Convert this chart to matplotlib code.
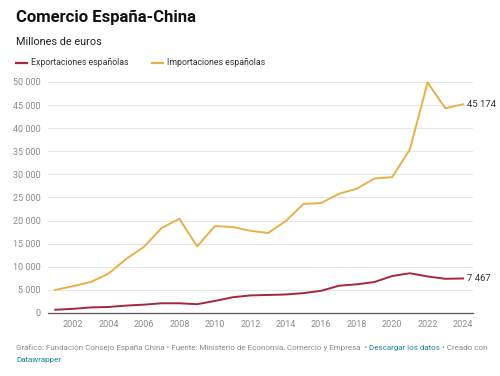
import matplotlib
matplotlib.use('Agg')
import matplotlib.pyplot as plt
import numpy as np

# values (millions of euros)
years = list(range(2001, 2025))
exports = [700, 900, 1200, 1300, 1600, 1800, 2100, 2100, 1900, 2600, 3400, 3800,
           3900, 4000, 4300, 4800, 5900, 6200, 6700, 8000, 8600, 7900, 7400, 7467]
imports = [5000, 5800, 6700, 8500, 11700, 14300, 18400, 20400, 14400, 18800, 18600, 17800,
           17300, 19900, 23600, 23800, 25800, 26900, 29100, 29400, 35400, 49900, 44300, 45174]
yticks = list(range(0, 50001, 5000))
xticks = list(range(2002, 2025, 2))

red = '#a3283c'
gold = '#e8b04a'
grey = '#8a8a8a'
link = '#1d81a2'

plt.rcParams['font.family'] = ['Roboto', 'DejaVu Sans']

def fmt(v):
    return f'{v:,}'.replace(',', ' ')

fig = plt.figure(figsize=(5, 3.76), dpi=100)
ax = fig.add_axes([0.096, 0.1676, 0.85, 0.6144])

ax.plot(years, imports, color=gold, lw=1.4, clip_on=False, zorder=3)
ax.plot(years, exports, color=red, lw=1.4, clip_on=False, zorder=3)

ax.set_xlim(2000.59, 2024.56)
ax.set_ylim(0, 50000)
ax.set_yticks(yticks)
ax.set_yticklabels([fmt(v) for v in yticks])
ax.set_xticks(xticks)
ax.set_xticklabels([str(y) for y in xticks])
ax.tick_params(axis='both', length=0, labelsize=6.5, labelcolor=grey)
ax.tick_params(axis='y', pad=5)
ax.tick_params(axis='x', pad=5)
ax.grid(axis='y', color='#e6e6e6', lw=0.8)
ax.set_axisbelow(True)
for s in ['top', 'right', 'left']:
    ax.spines[s].set_visible(False)
ax.spines['bottom'].set_color('#555555')
ax.spines['bottom'].set_linewidth(0.9)

# end labels
ax.text(years[-1] + 0.22, imports[-1], fmt(imports[-1]), fontsize=6.8, color='#333333',
        va='center', ha='left')
ax.text(years[-1] + 0.22, exports[-1], fmt(exports[-1]), fontsize=6.8, color='#333333',
        va='center', ha='left')

# title, subtitle, legend
fig.text(0.032, 0.953, 'Comercio España-China', fontsize=12, fontweight='bold',
         color='#111111', va='center')
fig.text(0.032, 0.888, 'Millones de euros', fontsize=7.8, color='#222222', va='center')
fig.add_artist(plt.Line2D([0.032, 0.054], [0.833, 0.833], color=red, lw=1.6))
fig.text(0.062, 0.833, 'Exportaciones españolas', fontsize=6.3, color='#333333', va='center')
fig.add_artist(plt.Line2D([0.304, 0.326], [0.833, 0.833], color=gold, lw=1.6))
fig.text(0.334, 0.833, 'Importaciones españolas', fontsize=6.3, color='#333333', va='center')

# footer with coloured link pieces
fig.canvas.draw()
renderer = fig.canvas.get_renderer()
pieces = [('Gráfico: Fundación Consejo España China • Fuente: Ministerio de Economía, Comercio y Empresa  • ', grey),
          ('Descargar los datos', link),
          (' • Creado con', grey)]
x = 0.032
for txt, col in pieces:
    t = fig.text(x, 0.075, txt, fontsize=5.8, color=col, va='center')
    bb = t.get_window_extent(renderer)
    x += bb.width / fig.bbox.width
fig.text(0.032, 0.042, 'Datawrapper', fontsize=5.8, color=link, va='center')

fig.savefig('out.png', dpi=100, facecolor='white')
